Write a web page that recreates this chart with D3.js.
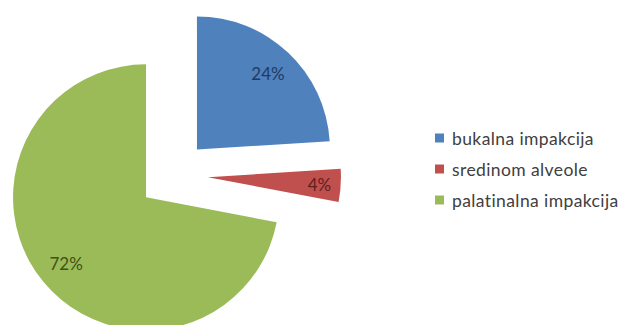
<!DOCTYPE html>
<html>
<head>
<meta charset="utf-8">
<script src="https://cdn.jsdelivr.net/npm/d3@7"></script>
<style>
  html, body { margin: 0; padding: 0; background: #fff; }
  svg { display: block; }
</style>
</head>
<body>
<svg id="chart" width="625" height="325"></svg>
<script>
// Distribution of impaction positions
const categories = ["bukalna impakcija", "sredinom alveole", "palatinalna impakcija"];
const values = [24, 4, 72];
const colors = ["#4f81bd", "#c0504d", "#9bbb59"];
const labelColors = ["#1f3b63", "#5e1f1d", "#3e5216"];

const width = 625, height = 325;
const cx = 173, cy = 175;      // pie centre
const radius = 133;
const explode = 35;            // every slice is pulled out from the centre
const font = "Lato, 'Open Sans', sans-serif";

const svg = d3.select("#chart");

const pie = d3.pie().sort(null).value(d => d)(values);
const arc = d3.arc().innerRadius(0).outerRadius(radius);

const g = svg.append("g").attr("transform", `translate(${cx},${cy})`);

const slices = g.selectAll("g.slice")
  .data(pie)
  .join("g")
  .attr("class", "slice")
  .attr("transform", d => {
    const a = (d.startAngle + d.endAngle) / 2;
    return `translate(${Math.sin(a) * explode},${-Math.cos(a) * explode})`;
  });

slices.append("path")
  .attr("d", arc)
  .attr("fill", (d, i) => colors[i]);

// percentage labels inside each slice; thin slices get pushed further out
slices.append("text")
  .attr("transform", d => {
    const a = (d.startAngle + d.endAngle) / 2;
    const r = (d.endAngle - d.startAngle) < 0.5 ? radius * 0.84 : radius * 0.78;
    return `translate(${Math.sin(a) * r},${-Math.cos(a) * r})`;
  })
  .attr("text-anchor", "middle")
  .attr("dominant-baseline", "central")
  .attr("font-family", font)
  .attr("font-size", 17)
  .attr("fill", (d, i) => labelColors[i])
  .text(d => d.data + "%");

// legend
const legend = svg.append("g").attr("transform", "translate(435,138)");
const rows = legend.selectAll("g")
  .data(categories)
  .join("g")
  .attr("transform", (d, i) => `translate(0,${i * 31})`);

rows.append("rect")
  .attr("x", 0).attr("y", -4.5)
  .attr("width", 9).attr("height", 9)
  .attr("fill", (d, i) => colors[i]);

rows.append("text")
  .attr("x", 17)
  .attr("dominant-baseline", "central")
  .attr("font-family", font)
  .attr("font-size", 17.5)
  .attr("letter-spacing", 0.4)
  .attr("fill", "#404040")
  .text(d => d);
</script>
</body>
</html>
